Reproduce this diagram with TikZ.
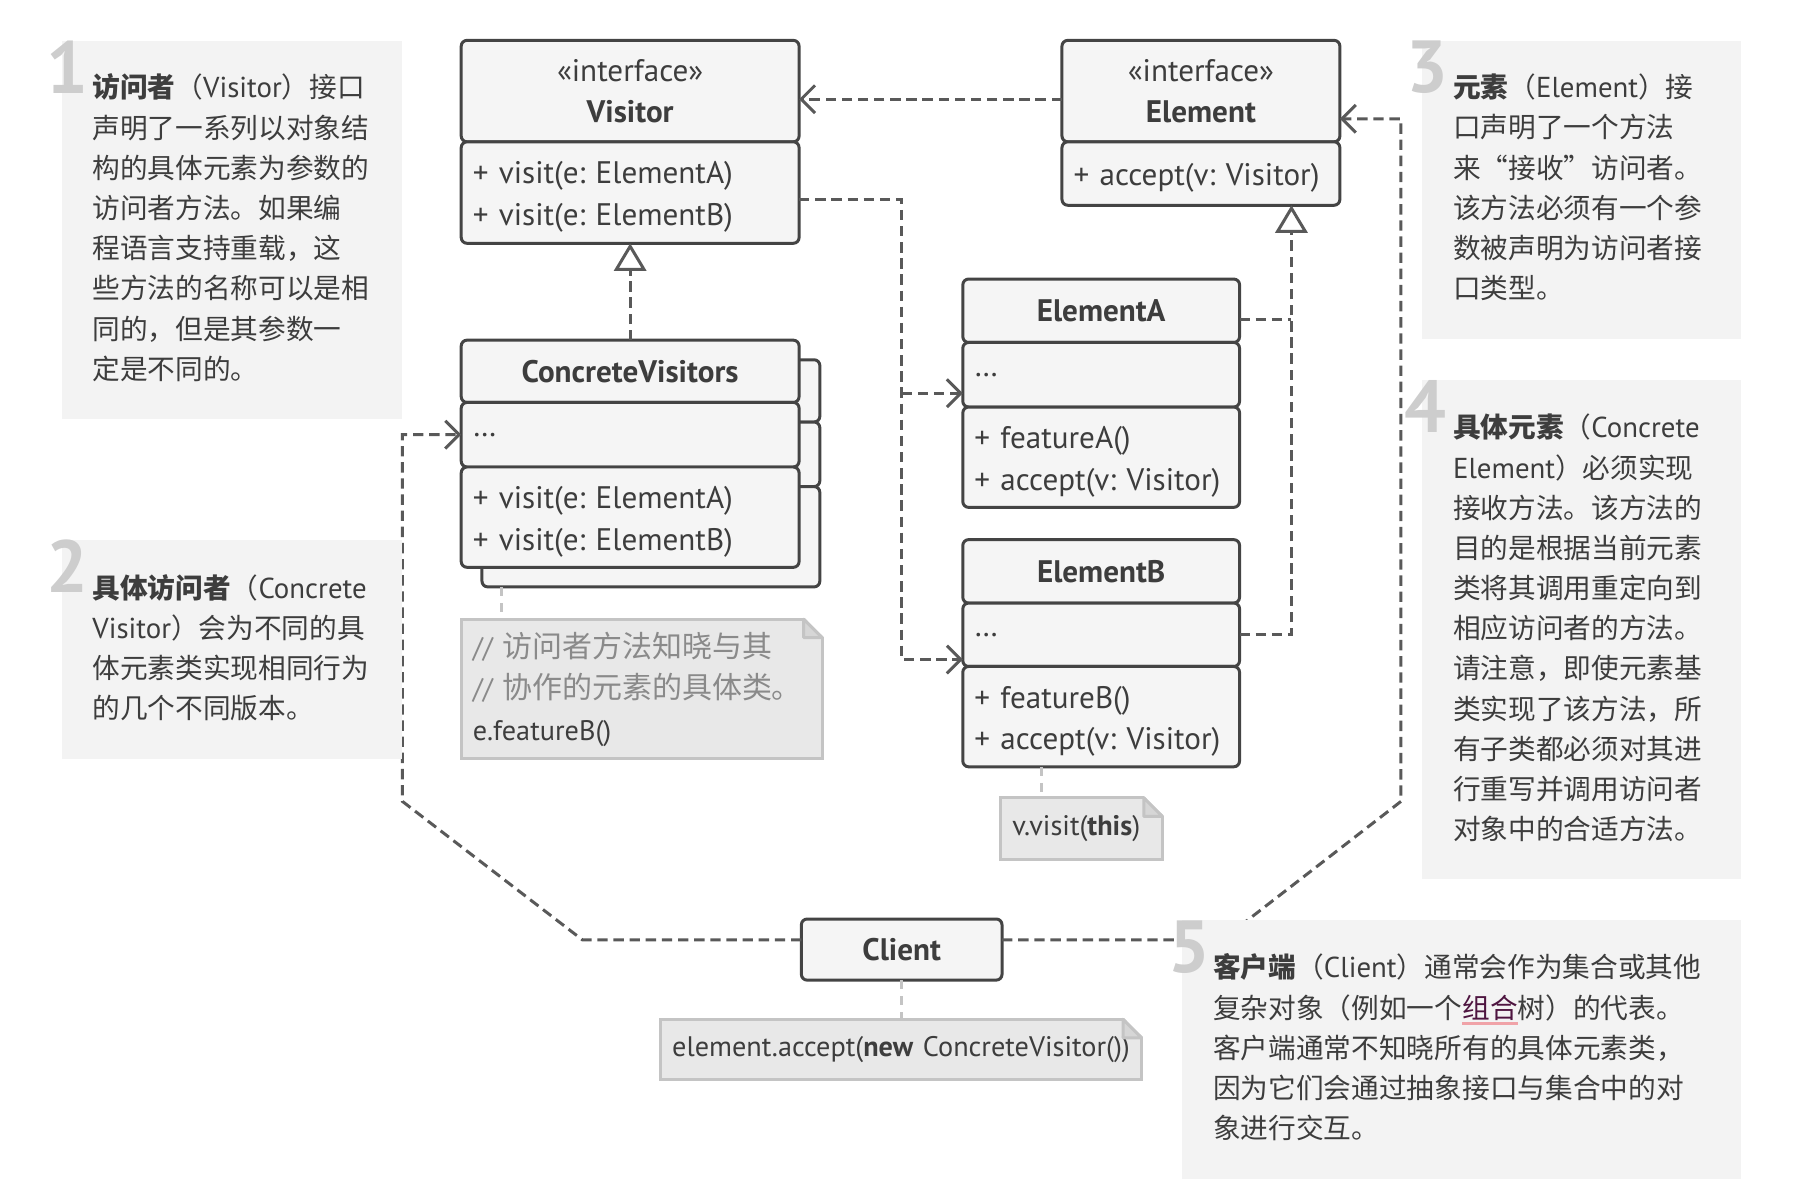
\documentclass[tikz,border=0pt]{standalone}
\usepackage{fontspec}
\setmainfont{PT Sans}
\newfontfamily\cjk{Noto Sans CJK SC}
\usetikzlibrary{arrows.meta, positioning}
\frenchspacing

\definecolor{ink}{HTML}{3D3D3D}
\definecolor{edge}{HTML}{444444}
\definecolor{wirec}{HTML}{595959}
\definecolor{boxfill}{HTML}{F5F5F5}
\definecolor{notefill}{HTML}{F3F3F3}
\definecolor{numgray}{HTML}{CDCDCD}
\definecolor{codefill}{HTML}{E8E8E8}
\definecolor{codeedge}{HTML}{C4C4C4}
\definecolor{codefold}{HTML}{D6D6D6}
\definecolor{codegray}{HTML}{8A8A8A}
\definecolor{linkpurple}{HTML}{4E1540}
\definecolor{linkpink}{HTML}{F0A3A8}

\newcommand\clsfont{\fontsize{27}{36}\selectfont}
\newcommand\codefont{\fontsize{24.5}{36}\selectfont}
\newcommand\ops{\rule{0pt}{27pt}}
\newcommand\cmt[1]{\textcolor{codegray}{// {\cjk\fontsize{26}{36}\selectfont #1}}}
\newcommand\lat[1]{{\normalfont\fontsize{25}{34.85}\selectfont #1}}
\newcommand\linkw[1]{\setbox0\hbox{#1}\rlap{\color{linkpink}\rule[-6pt]{\wd0}{3pt}}\textcolor{linkpurple}{#1}}
% folded corner of a code note
\newcommand\dogear[1]{%
  \fill[white] ([xshift=-16pt,yshift=2pt]#1.north east) -- ([xshift=2pt,yshift=2pt]#1.north east)
    -- ([xshift=2pt,yshift=-16pt]#1.north east) -- cycle;
  \draw[codeedge, line width=2.6pt, fill=codefold, line join=round] ([xshift=-16pt]#1.north east)
    -- ([xshift=-16pt,yshift=-16pt]#1.north east) -- ([yshift=-16pt]#1.north east) -- cycle;}

\begin{document}
\begin{tikzpicture}[x=1pt, y=-1pt,
    cell/.style={draw=edge, fill=boxfill, line width=2.6pt, rounded corners=5pt, outer sep=0pt,
      inner xsep=10pt, inner ysep=0pt, text width=#1, text=ink, font=\clsfont},
    head/.style={cell=#1, align=center},
    body/.style={cell=#1, align=left},
    wire/.style={draw=wirec, line width=2.6pt, dash pattern=on 9pt off 5pt},
    uses/.style={wire, -{Straight Barb[length=12pt, width=24pt, line width=2.6pt]}},
    impl/.style={wire, -{Triangle[length=24pt, width=28pt, fill=white, line width=2.6pt]}},
    tie/.style={draw=codeedge, line width=2.6pt, dash pattern=on 8pt off 6pt},
    code/.style={draw=codeedge, fill=codefill, line width=2.6pt, outer sep=0pt, inner xsep=10pt,
      inner ysep=0pt, align=left, text=ink, anchor=north west, font=\codefont},
    note/.style={fill=notefill, anchor=north west, inner sep=0pt},
    notetext/.style={anchor=north west, inner sep=0pt, align=left, text=ink,
      font=\cjk\fontsize{24}{34.85}\selectfont},
    num/.style={anchor=north west, inner sep=0pt, text=numgray,
      font=\fontsize{64}{64}\selectfont\bfseries}]
  \useasboundingbox (0,0) rectangle (1568,1042);

  % interfaces
  \node[head=273pt, minimum height=88pt, anchor=north west] (Visitor) at (400,35) {«interface»\\\textbf{Visitor}};
  \node[body=273pt, minimum height=88pt, below=0pt of Visitor] (VisitorOps) {\ops+ visit(e: ElementA)\\+ visit(e: ElementB)};
  \node[head=221pt, minimum height=88pt, anchor=north west] (Element) at (921,35) {«interface»\\\textbf{Element}};
  \node[body=221pt, minimum height=55pt, below=0pt of Element] (ElementOps) {\ops+ accept(v: Visitor)};

  % concrete visitors, a stack of two
  \begin{scope}[shift={(18,17)}]
    \node[head=273pt, minimum height=54pt, anchor=north west] (CVBack) at (400,295) {};
    \node[body=273pt, minimum height=56pt, below=0pt of CVBack] (CVBackFields) {};
    \node[body=273pt, minimum height=87pt, below=0pt of CVBackFields] (CVBackOps) {};
  \end{scope}
  \node[head=273pt, minimum height=54pt, anchor=north west] (CV) at (400,295) {\textbf{ConcreteVisitors}};
  \node[body=273pt, minimum height=56pt, below=0pt of CV] (CVFields) {…};
  \node[body=273pt, minimum height=87pt, below=0pt of CVFields] (CVOps) {\ops+ visit(e: ElementA)\\+ visit(e: ElementB)};

  % concrete elements
  \node[head=220pt, minimum height=55pt, anchor=north west] (ElemA) at (835,242) {\textbf{ElementA}};
  \node[body=220pt, minimum height=56pt, below=0pt of ElemA] (ElemAFields) {…};
  \node[body=220pt, minimum height=87pt, below=0pt of ElemAFields] (ElemAOps) {\ops+ featureA()\\+ accept(v: Visitor)};
  \node[head=220pt, minimum height=55pt, anchor=north west] (ElemB) at (835,468) {\textbf{ElementB}};
  \node[body=220pt, minimum height=55pt, below=0pt of ElemB] (ElemBFields) {…};
  \node[body=220pt, minimum height=87pt, below=0pt of ElemBFields] (ElemBOps) {\ops+ featureB()\\+ accept(v: Visitor)};

  \node[head=154pt, minimum height=53pt, anchor=north west] (Client) at (695,797) {\textbf{Client}};

  % code notes
  \node[code, text width=293pt, minimum height=121pt] (CVNote) at (400,537)
    {\cmt{访问者方法知晓与其}\\\cmt{协作的元素的具体类。}\\e.featureB()};
  \node[code, text width=120pt, minimum height=53pt] (ElemBNote) at (868,692) {v.visit(\textbf{this})};
  \node[code, text width=397pt, minimum height=52pt] (ClientNote) at (573,884) {\mbox{element.accept(\textbf{new} ConcreteVisitor())}};
  \dogear{CVNote}
  \dogear{ElemBNote}
  \dogear{ClientNote}

  \coordinate (cvtie) at (435,0);
  \coordinate (ebtie) at (903,0);
  \draw[tie] (cvtie |- CVBackOps.south) -- (cvtie |- CVNote.north);
  \draw[tie] (ebtie |- ElemBOps.south) -- (ebtie |- ElemBNote.north);
  \draw[tie] (Client.south) -- (Client.south |- ClientNote.north);

  % connectors
  \coordinate (vrow) at (0,86);
  \coordinate (opsrow) at (0,173);
  \coordinate (arowA) at (0,341);
  \coordinate (arowB) at (0,572);
  \coordinate (headA) at (0,277);
  \coordinate (crow) at (0,815);
  \coordinate (erow) at (0,103);
  \coordinate (vrail) at (782,0);
  \coordinate (erail) at (1120,0);
  \draw[uses] (Element.west |- vrow) -- (Visitor.east |- vrow);
  \draw[uses] (VisitorOps.east |- opsrow) -| (vrail |- arowB) -- (ElemBFields.west |- arowB);
  \draw[uses] (vrail |- arowA) -- (ElemAFields.west |- arowA);
  \draw[impl] (CV.north) -- (VisitorOps.south);
  \draw[wire] (ElemA.east |- headA) -- (erail |- headA);
  \draw[impl] (ElemBFields.east) -| (erail |- ElementOps.south);
  \draw[uses] (Client.west |- crow) -- (505,815) -- (349,695) |- (CVFields.west);
  \draw[uses] (Client.east |- crow) -- (1060,815) -- (1215,695) |- (Element.east |- erow);

  % explanations
  \node[note, minimum width=294pt, minimum height=328pt] (Note1) at (54,35) {};
  \node[num] (Num1) at (40,35) {1};
  \node[notetext] (Text1) at (80,64) {\textbf{访问者}（\lat{Visitor}）接口\\声明了一系列以对象结\\构的具体元素为参数的\\访问者方法。如果编\\程语言支持重载，这\\些方法的名称可以是相\\同的，但是其参数一\\定是不同的。};

  \node[note, minimum width=294pt, minimum height=190pt] (Note2) at (54,468) {};
  \node[num] (Num2) at (40,468) {2};
  \node[notetext] (Text2) at (80,498) {\textbf{具体访问者}（\lat{Concrete}\\\lat{Visitor}）会为不同的具\\体元素类实现相同行为\\的几个不同版本。};

  \node[note, minimum width=277pt, minimum height=259pt] (Note3) at (1233,35) {};
  \node[num] (Num3) at (1220,35) {3};
  \node[notetext] (Text3) at (1260,64) {\textbf{元素}（\lat{Element}）接\\口声明了一个方法\\来“接收”访问者。\\该方法必须有一个参\\数被声明为访问者接\\口类型。};

  \node[note, minimum width=277pt, minimum height=433pt] (Note4) at (1233,329) {};
  \node[num] (Num4) at (1218,330) {4};
  \node[notetext] (Text4) at (1260,359) {\textbf{具体元素}（\lat{Concrete}\\\lat{Element}）必须实现\\接收方法。该方法的\\目的是根据当前元素\\类将其调用重定向到\\相应访问者的方法。\\请注意，即使元素基\\类实现了该方法，所\\有子类都必须对其进\\行重写并调用访问者\\对象中的合适方法。};

  \node[note, minimum width=485pt, minimum height=224pt] (Note5) at (1025,798) {};
  \node[num] (Num5) at (1013,798) {5};
  \node[notetext] (Text5) at (1052,827) {\textbf{客户端}（\lat{Client}）通常会作为集合或其他\\复杂对象（例如一个\linkw{组合}树）的代表。\\客户端通常不知晓所有的具体元素类，\\因为它们会通过抽象接口与集合中的对\\象进行交互。};
\end{tikzpicture}
\end{document}
